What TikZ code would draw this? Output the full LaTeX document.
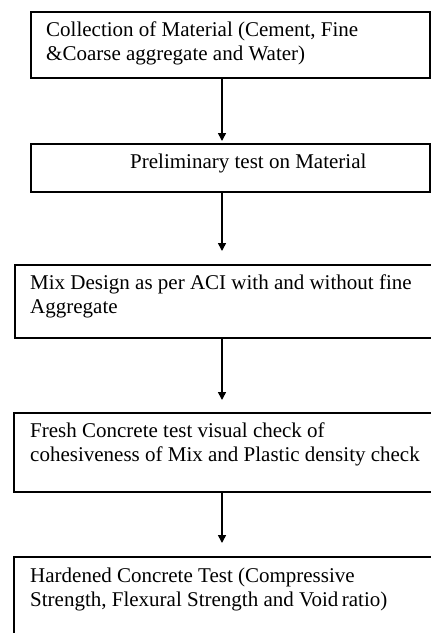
\documentclass[tikz,border=0pt]{standalone}
\usepackage{fontspec}
\setmainfont{Liberation Serif}
\usetikzlibrary{arrows.meta,calc}
\begin{document}
\begin{tikzpicture}[x=1pt,y=-1pt,
  box/.style={draw, line width=1.3pt, inner sep=0pt, outer sep=0pt, anchor=north west},
  txt/.style={font=\fontsize{21}{24}\selectfont, align=left, inner sep=0pt, anchor=base west},
  arr/.style={line width=1.5pt, -{Triangle[width=8pt,length=8pt]}}]
\useasboundingbox (0,0) rectangle (431,633);
\clip (0,0) rectangle (431,633);
\coordinate (ax) at (222,0);
\node[box, minimum width=399pt, minimum height=66pt] (b1) at (31,12) {};
\node[box, minimum width=399pt, minimum height=48pt] (b2) at (31,144) {};
\node[box, minimum width=425pt, minimum height=73pt] (b3) at (15,265) {};
\node[box, minimum width=426pt, minimum height=79pt] (b4) at (14,413) {};
\node[box, minimum width=426pt, minimum height=93pt] (b5) at (14,557) {};
\node[txt] (t1) at (46,60) {Collection of Material (Cement, Fine\\\&Coarse aggregate and Water)};
\node[txt] (t2) at (130,168) {Preliminary test on Material};
\node[txt] (t3) at (30,313) {Mix Design as per ACI with and without fine\\Aggregate};
\node[txt] (t4) at (30,461) {Fresh Concrete test visual check of\\cohesiveness of Mix and Plastic density check};
\node[txt] (t5) at (30,606) {Hardened Concrete Test (Compressive\\Strength, Flexural Strength and Void\,ratio)};
\draw[arr, shorten >=3pt] (b1.south -| ax) -- (b2.north -| ax);
\draw[arr, shorten >=14pt] (b2.south -| ax) -- (b3.north -| ax);
\draw[arr, shorten >=13pt] (b3.south -| ax) -- (b4.north -| ax);
\draw[arr, shorten >=14pt] (b4.south -| ax) -- (b5.north -| ax);
\end{tikzpicture}
\end{document}
